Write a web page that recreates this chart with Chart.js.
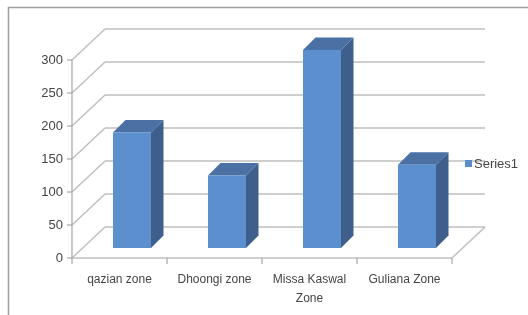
<!DOCTYPE html>
<html>
<head>
<meta charset="utf-8">
<script src="https://cdn.jsdelivr.net/npm/chart.js@4"></script>
<style>
    html, body { margin: 0; padding: 0; background: #fff; }
    #wrap { width: 528px; height: 315px; position: relative; }
</style>
</head>
<body>
<div id="wrap"><canvas id="chart" width="528" height="315"></canvas></div>
<script>
const categories = ['qazian zone', 'Dhoongi zone', 'Missa Kaswal Zone', 'Guliana Zone']
const series1 = [175, 110, 300, 126]
const seriesName = 'Series1'
const yTicks = [0, 50, 100, 150, 200, 250, 300]

const fontFamily = '"Liberation Sans", Arial, sans-serif'
const textColor = '#454545'
const gridColor = '#bfbfbf'
const axisColor = '#a6a6a6'

// depth of the box (floor / walls) and of the bars
const depth = { x: 33, y: -31 }
const barShift = { x: 12.5, y: -10 }
const barDepth = { x: 12.5, y: -12.5 }

const wrapLabel = label => {
    let words = label.split(' ')
    return words.length > 2 ? [words.slice(0, -1).join(' '), words[words.length - 1]] : label
}

const line = (ctx, x1, y1, x2, y2) => {
    ctx.beginPath()
    ctx.moveTo(x1, y1)
    ctx.lineTo(x2, y2)
    ctx.stroke()
}

const poly = (ctx, pts, color) => {
    ctx.beginPath()
    ctx.moveTo(pts[0][0], pts[0][1])
    for (let i = 1; i < pts.length; i++) ctx.lineTo(pts[i][0], pts[i][1])
    ctx.closePath()
    ctx.fillStyle = color
    ctx.fill()
}

const box3d = {
    id: 'box3d',
    beforeDatasetsDraw(chart) {
        const ctx = chart.ctx
        const area = chart.chartArea
        const y = chart.scales.y

        ctx.save()
        // outer frame
        ctx.strokeStyle = '#a0a0a0'
        ctx.lineWidth = 1.5
        ctx.strokeRect(8.5, 7.5, 700, 500)

        ctx.strokeStyle = gridColor
        ctx.lineWidth = 1.5
        yTicks.forEach(v => {
            let py = y.getPixelForValue(v)
            line(ctx, area.left, py, area.left + depth.x, py + depth.y)
            line(ctx, area.left + depth.x, py + depth.y, area.right + depth.x, py + depth.y)
        })
        // floor
        line(ctx, area.left, area.bottom, area.right, area.bottom)
        line(ctx, area.right, area.bottom, area.right + depth.x, area.bottom + depth.y)

        // axes
        ctx.strokeStyle = axisColor
        ctx.lineWidth = 1.2
        line(ctx, area.left, y.getPixelForValue(300), area.left, area.bottom)
        yTicks.forEach(v => {
            let py = y.getPixelForValue(v)
            line(ctx, area.left - 5, py, area.left, py)
        })
        for (let i = 0; i <= categories.length; i++) {
            let px = area.left + (area.right - area.left) * i / categories.length
            line(ctx, px, area.bottom, px, area.bottom + 6)
        }

        // legend
        ctx.fillStyle = '#5b8dcb'
        ctx.fillRect(465, 160, 7, 7)
        ctx.fillStyle = textColor
        ctx.font = '13px ' + fontFamily
        ctx.textBaseline = 'middle'
        ctx.textAlign = 'left'
        ctx.fillText(chart.data.datasets[0].label, 474, 164)
        ctx.restore()
    },
    afterDatasetsDraw(chart) {
        const ctx = chart.ctx
        const meta = chart.getDatasetMeta(0)
        ctx.save()
        meta.data.forEach(bar => {
            const p = bar.getProps(['x', 'y', 'base', 'width'], true)
            let x0 = p.x - p.width / 2 + barShift.x,
                x1 = x0 + p.width,
                top = p.y + barShift.y,
                bot = p.base + barShift.y

            poly(ctx, [[x1, top], [x1 + barDepth.x, top + barDepth.y], [x1 + barDepth.x, bot + barDepth.y], [x1, bot]], '#3e5f8b')
            poly(ctx, [[x0, top], [x0 + barDepth.x, top + barDepth.y], [x1 + barDepth.x, top + barDepth.y], [x1, top]], '#4a70a4')
            poly(ctx, [[x0, top], [x1, top], [x1, bot], [x0, bot]], '#5b8fcd')
        })
        ctx.restore()
    }
}

new Chart(document.getElementById('chart').getContext('2d'), {
    type: 'bar',
    data: {
        labels: categories,
        datasets: [{
            label: seriesName,
            data: series1,
            backgroundColor: 'rgba(0,0,0,0)',
            borderWidth: 0,
            barPercentage: 0.4,
            categoryPercentage: 1
        }]
    },
    options: {
        responsive: false,
        animation: false,
        events: [],
        layout: {
            padding: { left: 0, right: 76, top: 60, bottom: 0 }
        },
        plugins: {
            legend: { display: false },
            tooltip: { enabled: false }
        },
        scales: {
            x: {
                grid: { display: false, drawTicks: false },
                border: { display: false },
                ticks: {
                    color: textColor,
                    font: { family: fontFamily, size: 12, lineHeight: 1.6 },
                    padding: 12,
                    maxRotation: 0,
                    autoSkip: false,
                    callback: function(v, i) { return wrapLabel(categories[i]) }
                },
                afterFit: scale => { scale.height = 57 }
            },
            y: {
                min: 0,
                max: 300,
                grid: { display: false, drawTicks: false },
                border: { display: false },
                ticks: {
                    stepSize: 50,
                    color: textColor,
                    font: { family: fontFamily, size: 13 },
                    padding: 9
                },
                afterFit: scale => { scale.width = 72 }
            }
        }
    },
    plugins: [box3d]
})
</script>
</body>
</html>
